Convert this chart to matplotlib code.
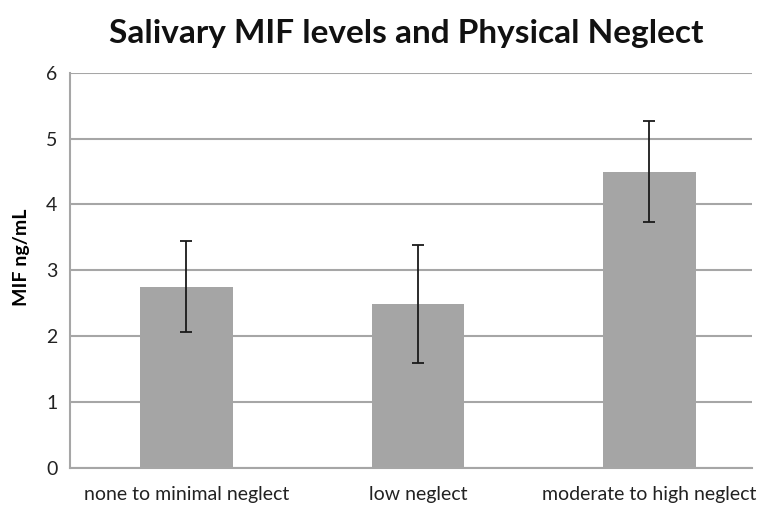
import matplotlib
matplotlib.use('Agg')
import matplotlib.pyplot as plt
import numpy as np

categories = ['none to minimal neglect', 'low neglect', 'moderate to high neglect']
mif_means = [2.75, 2.49, 4.50]
mif_err = [0.69, 0.90, 0.76]
y_ticks = [0, 1, 2, 3, 4, 5, 6]

plt.rcParams['font.family'] = ['Lato', 'DejaVu Sans']

fig = plt.figure(figsize=(7.65, 5.15), dpi=100)
ax = fig.add_axes([0.0915, 0.0913, 0.8915, 0.7675])

x = np.arange(len(categories))
ax.bar(x, mif_means, width=0.40, color='#a5a5a5', zorder=2)
ax.errorbar(x, mif_means, yerr=mif_err, fmt='none', ecolor='#1a1a1a',
            elinewidth=1.3, capsize=4, capthick=1.3, zorder=3)

ax.set_ylim(0, 6)
ax.set_xlim(-0.503, 2.443)
ax.set_yticks(y_ticks)
ax.set_xticks(x)
ax.set_xticklabels(categories, fontsize=14, color='#222222')
ax.tick_params(axis='y', labelsize=14, colors='#222222', length=0, pad=9)
ax.tick_params(axis='x', length=0, pad=13)
ax.yaxis.grid(True, color='#a6a6a6', linewidth=1.5, zorder=0)
ax.set_axisbelow(True)

for side in ['top', 'right']:
    ax.spines[side].set_visible(False)
ax.spines['left'].set_color('#a6a6a6')
ax.spines['left'].set_linewidth(1.5)
ax.spines['bottom'].set_color('#a6a6a6')
ax.spines['bottom'].set_linewidth(1.5)

ax.set_ylabel('MIF ng/mL', fontsize=14, fontweight='bold')
ax.yaxis.set_label_coords(-0.058, 0.533)
fig.text(0.531, 0.935, 'Salivary MIF levels and Physical Neglect', ha='center', va='center',
         fontsize=24, fontweight='bold', color='#111111')

fig.savefig('out.png', dpi=100)
